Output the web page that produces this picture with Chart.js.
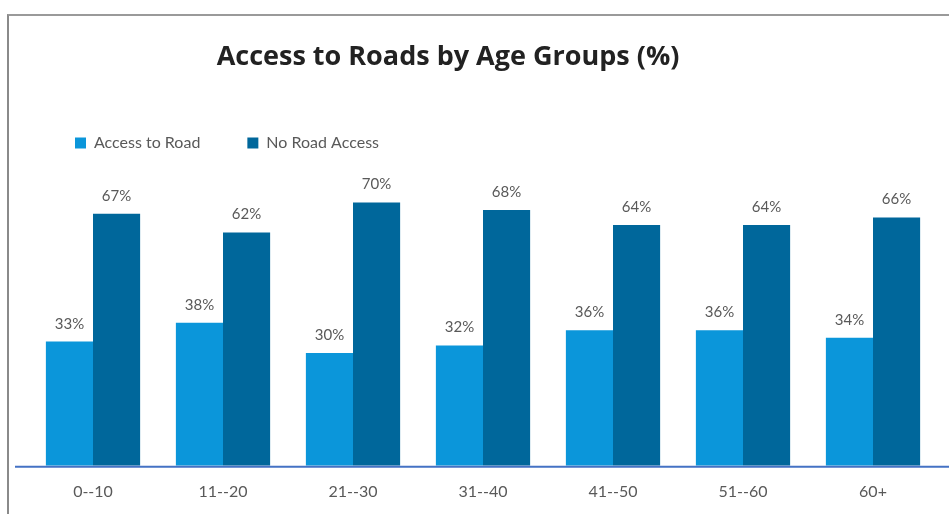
<!DOCTYPE html>
<html>
<head>
<meta charset="utf-8">
<script src="https://cdn.jsdelivr.net/npm/chart.js@4"></script>
<style>
  html, body { margin: 0; padding: 0; background: #fff; }
  #frame {
    position: absolute; left: 7px; top: 14px; width: 942px; height: 500px;
    border-top: 2px solid #9a9a9a; border-left: 2px solid #8a8a8a;
  }
  #wrap { position: absolute; left: 0; top: 0; width: 949px; height: 514px; }
</style>
</head>
<body>
<div id="frame"></div>
<div id="wrap"><canvas id="chartCanvas" width="949" height="514"></canvas></div>
<script>
  // ── Data ──
  var ageGroups = ['0--10', '11--20', '21--30', '31--40', '41--50', '51--60', '60+'];
  var accessToRoad = [33, 38, 30, 32, 36, 36, 34];
  var noRoadAccess = [67, 62, 70, 68, 64, 64, 66];
  var seriesNames = ['Access to Road', 'No Road Access'];
  var chartTitle = 'Access to Roads by Age Groups (%)';

  var LABEL_FONT = 'Lato, "Open Sans", sans-serif';

  // title sits left of the plot centre in the original, so draw it by hand
  var titleText = {
    id: 'titleText',
    afterDraw: function (chart) {
      var ctx = chart.ctx;
      ctx.save();
      ctx.font = '700 27px "Open Sans", sans-serif';
      ctx.fillStyle = '#222222';
      ctx.textAlign = 'center';
      ctx.textBaseline = 'middle';
      ctx.fillText(chartTitle, 448, 57);
      ctx.restore();
    }
  };

  // value labels above each bar
  var barLabels = {
    id: 'barLabels',
    afterDatasetsDraw: function (chart) {
      var ctx = chart.ctx;
      ctx.save();
      ctx.font = '15px ' + LABEL_FONT;
      ctx.fillStyle = '#595959';
      ctx.textAlign = 'center';
      ctx.textBaseline = 'alphabetic';
      chart.data.datasets.forEach(function (ds, i) {
        chart.getDatasetMeta(i).data.forEach(function (bar, j) {
          ctx.fillText(ds.data[j] + '%', bar.x, bar.y - 13);
        });
      });
      ctx.restore();
    }
  };

  // blue baseline running the full width
  var baseLine = {
    id: 'baseLine',
    afterDatasetsDraw: function (chart) {
      var ctx = chart.ctx;
      var y = chart.scales.y.getPixelForValue(0);
      ctx.save();
      ctx.strokeStyle = '#4472C4';
      ctx.lineWidth = 2;
      ctx.beginPath();
      ctx.moveTo(15, y + 1);
      ctx.lineTo(chart.width, y + 1);
      ctx.stroke();
      ctx.restore();
    }
  };

  var ctx = document.getElementById('chartCanvas').getContext('2d');
  new Chart(ctx, {
    type: 'bar',
    data: {
      labels: ageGroups,
      datasets: [{
        label: seriesNames[0],
        data: accessToRoad,
        backgroundColor: '#0B96DA',
        borderWidth: 0
      }, {
        label: seriesNames[1],
        data: noRoadAccess,
        backgroundColor: '#00679B',
        borderWidth: 0
      }]
    },
    options: {
      responsive: false,
      animation: false,
      events: [],
      layout: { padding: { left: 28, right: 11, top: 88, bottom: -3 } },
      datasets: { bar: { categoryPercentage: 0.725, barPercentage: 1 } },
      plugins: {
        title: { display: false },
        legend: {
          display: true,
          position: 'top',
          align: 'start',
          labels: {
            boxWidth: 11,
            boxHeight: 11,
            padding: 47,
            color: '#595959',
            font: { family: LABEL_FONT, size: 16 }
          }
        },
        tooltip: { enabled: false }
      },
      scales: {
        x: {
          grid: { display: false, drawTicks: false },
          border: { display: false },
          ticks: { color: '#595959', font: { family: LABEL_FONT, size: 16 }, padding: 16 }
        },
        y: {
          display: false,
          min: 0,
          max: 81
        }
      }
    },
    plugins: [barLabels, baseLine, titleText]
  });
</script>
</body>
</html>
